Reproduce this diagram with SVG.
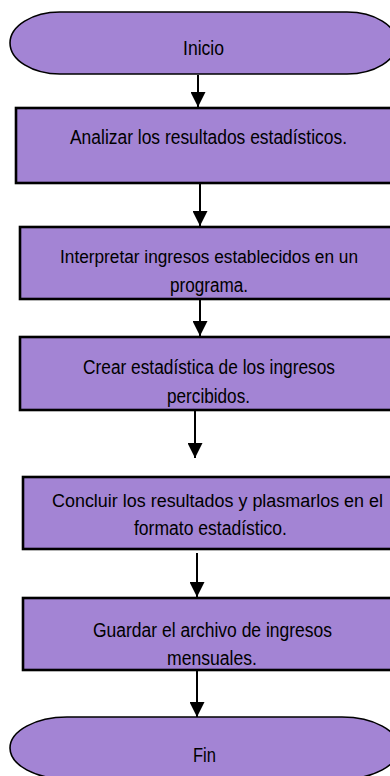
<svg xmlns="http://www.w3.org/2000/svg" width="390" height="776" viewBox="0 0 390 776">
  <style>
    .term { fill: #A384D4; stroke: #000; stroke-width: 1.6; }
    .proc { fill: #A384D4; stroke: #000; stroke-width: 2.6; }
    .lbl { font-family: "Liberation Sans", Arial, sans-serif; font-size: 19.5px; fill: #000; text-anchor: middle; }
    .lbl.wide { font-size: 18px; }
    .conn { stroke: #000; stroke-width: 2; fill: none; marker-end: url(#arrow); }
  </style>
  <defs>
    <marker id="arrow" markerUnits="userSpaceOnUse" markerWidth="15" markerHeight="15" refX="15" refY="7.5" orient="auto">
      <path d="M0,0 L15,7.5 L0,15 Z" fill="#000"/>
    </marker>
  </defs>
  <rect width="390" height="776" fill="#fff"/>

  <g id="connectors">
    <line class="conn" x1="198" y1="75" x2="198" y2="107"/>
    <line class="conn" x1="200" y1="183" x2="200" y2="226"/>
    <line class="conn" x1="200" y1="299" x2="200" y2="336"/>
    <line class="conn" x1="195" y1="410" x2="195" y2="458"/>
    <line class="conn" x1="197" y1="553" x2="197" y2="597"/>
    <line class="conn" x1="197" y1="670" x2="197" y2="717"/>
  </g>

  <g id="inicio">
    <path class="term" d="M60,12 H347 A50,31 0 0 1 347,74 H60 A50,31 0 0 1 60,12 Z"/>
    <text class="lbl" x="203.5" y="55" textLength="41" lengthAdjust="spacingAndGlyphs">Inicio</text>
  </g>

  <g id="paso1">
    <rect class="proc" x="16" y="108" width="388" height="75"/>
    <text class="lbl" x="208.5" y="144" textLength="277" lengthAdjust="spacingAndGlyphs">Analizar los resultados estadísticos.</text>
  </g>

  <g id="paso2">
    <rect class="proc" x="20" y="227" width="384" height="72"/>
    <text class="lbl wide" x="209" y="263" textLength="298" lengthAdjust="spacingAndGlyphs">Interpretar ingresos establecidos en un</text>
    <text class="lbl" x="209" y="292" textLength="78" lengthAdjust="spacingAndGlyphs">programa.</text>
  </g>

  <g id="paso3">
    <rect class="proc" x="20" y="337" width="384" height="73"/>
    <text class="lbl" x="209" y="374" textLength="252" lengthAdjust="spacingAndGlyphs">Crear estadística de los ingresos</text>
    <text class="lbl" x="208.5" y="403" textLength="83" lengthAdjust="spacingAndGlyphs">percibidos.</text>
  </g>

  <g id="paso4">
    <rect class="proc" x="23" y="477" width="381" height="72"/>
    <text class="lbl wide" x="217.5" y="507" textLength="331" lengthAdjust="spacingAndGlyphs">Concluir los resultados y plasmarlos en el</text>
    <text class="lbl" x="210.5" y="535" textLength="153" lengthAdjust="spacingAndGlyphs">formato estadístico.</text>
  </g>

  <g id="paso5">
    <rect class="proc" x="23" y="598" width="381" height="72"/>
    <text class="lbl" x="212.5" y="637" textLength="239" lengthAdjust="spacingAndGlyphs">Guardar el archivo de ingresos</text>
    <text class="lbl" x="212" y="665" textLength="90" lengthAdjust="spacingAndGlyphs">mensuales.</text>
  </g>

  <g id="fin">
    <path class="term" d="M67,717 H342 A57,31 0 0 1 342,779 H67 A57,31 0 0 1 67,717 Z"/>
    <text class="lbl" x="204.5" y="762" textLength="23" lengthAdjust="spacingAndGlyphs">Fin</text>
  </g>
</svg>
